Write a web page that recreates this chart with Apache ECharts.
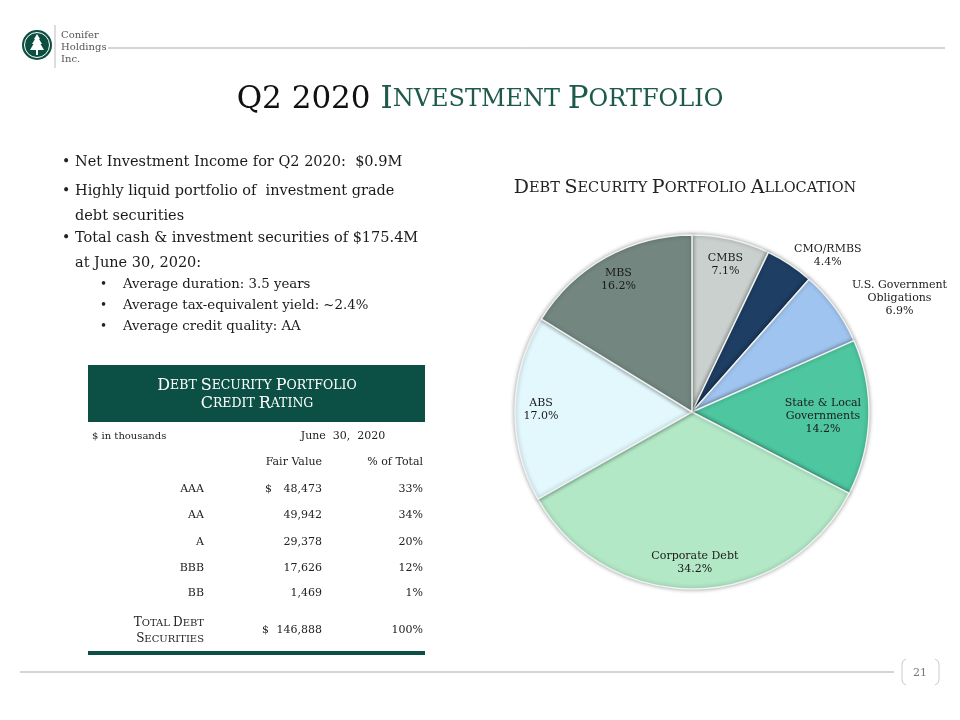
<!DOCTYPE html>
<html>
<head>
<meta charset="utf-8">
<script src="https://cdn.jsdelivr.net/npm/echarts@6/dist/echarts.min.js"></script>
<style>html,body{margin:0;padding:0;background:#fff;}#chart{width:960px;height:720px;}</style>
</head>
<body>
<div id="chart"></div>
<script>
// ---- data ----
const sliceNames = ['CMBS', 'CMO/RMBS', 'U.S. Government\nObligations', 'State & Local\nGovernments', 'Corporate Debt', 'ABS', 'MBS'];
const sliceValues = [7.1, 4.4, 6.9, 14.2, 34.2, 17.0, 16.2];
const ratings = ['AAA', 'AA', 'A', 'BBB', 'BB'];
const fairValues = [48473, 49942, 29378, 17626, 1469];
const pctOfTotal = [33, 34, 20, 12, 1];
const totalFairValue = 146888;
const totalPct = 100;
const bullets = ['Net Investment Income for Q2 2020:  $0.9M', 'Highly liquid portfolio of  investment grade\ndebt securities', 'Total cash & investment securities of $175.4M\nat June 30, 2020:'];
const subBullets = ['Average duration: 3.5 years', 'Average tax-equivalent yield: ~2.4%', 'Average credit quality: AA'];

// ---- styles ----
const sliceColors = ['#c9d0cd', '#1e3e63', '#9fc4ef', '#4ec6a0', '#b2e8c6', '#e2f8fd', '#738680'];
const labelRing = [0, 2, 3, 1, 0, 0, 0];
const rings = [
  {radius: [116, 180], startAngle: 90},
  {radius: [80, 176], startAngle: 90},
  {radius: [176, 232], startAngle: 82.5},
  {radius: [176, 291], startAngle: 82.5}
];
const SERIF = '"DejaVu Serif", serif';
const GREEN = '#0c5045';
const TITLE_GREEN = '#1e5a4c';
const center = [692, 412];

const chart = echarts.init(document.getElementById('chart'));

const series = [{
  type: 'pie',
  center: center,
  radius: [0, 177],
  startAngle: 90,
  clockwise: true,
  silent: true,
  label: {show: false},
  labelLine: {show: false},
  itemStyle: {borderColor: '#eef3f2', borderWidth: 1.5, shadowBlur: 4, shadowColor: 'rgba(0,0,0,0.35)'},
  data: sliceValues.map((v, i) => ({name: sliceNames[i], value: v, itemStyle: {color: sliceColors[i]}}))
}];
rings.forEach((r, k) => {
  series.push({
    type: 'pie',
    center: center,
    radius: r.radius,
    startAngle: r.startAngle,
    clockwise: true,
    silent: true,
    avoidLabelOverlap: false,
    itemStyle: {color: 'rgba(0,0,0,0)'},
    labelLine: {show: false},
    emphasis: {disabled: true},
    label: {
      position: 'inside',
      fontFamily: SERIF, fontSize: 11, lineHeight: 13, color: '#1a1a1a',
      formatter: p => p.name + '\n' + p.value.toFixed(1) + '%'
    },
    data: sliceValues.map((v, i) => ({name: sliceNames[i], value: v, label: {show: labelRing[i] === k}}))
  });
});

const g = [];
// logo
g.push({type: 'circle', shape: {cx: 37, cy: 45, r: 15}, style: {fill: '#0c4f41'}});
g.push({type: 'circle', shape: {cx: 37, cy: 45, r: 12.5}, style: {fill: 'none', stroke: '#fff', lineWidth: 1}});
g.push({type: 'polygon', shape: {points: [[37,34],[40,39],[39,39],[42,44],[40.5,44],[44,50],[38,50],[38,55],[36,55],[36,50],[30,50],[33.5,44],[32,44],[35,39],[34,39]]}, style: {fill: '#fff'}});
g.push({type: 'line', shape: {x1: 55, y1: 25, x2: 55, y2: 68}, style: {stroke: '#bbb', lineWidth: 1}});
['Conifer', 'Holdings', 'Inc.'].forEach((t, i) => g.push({type: 'text', x: 61, y: 35 + i * 12, style: {text: t, font: '10px ' + SERIF, fill: '#555', textVerticalAlign: 'middle'}}));
g.push({type: 'line', shape: {x1: 108, y1: 48, x2: 945, y2: 48}, style: {stroke: '#aaa', lineWidth: 1}});
// footer
g.push({type: 'line', shape: {x1: 20, y1: 672, x2: 894, y2: 672}, style: {stroke: '#aaa', lineWidth: 1}});
g.push({type: 'polyline', shape: {points: [[906,659],[903,661],[902,664],[902,680],[903,683],[906,685]]}, style: {fill: 'none', stroke: '#ccc', lineWidth: 1}});
g.push({type: 'polyline', shape: {points: [[935,659],[938,661],[939,664],[939,680],[938,683],[935,685]]}, style: {fill: 'none', stroke: '#ccc', lineWidth: 1}});
g.push({type: 'text', x: 920, y: 673, style: {text: '21', font: '11px ' + SERIF, fill: '#777', textAlign: 'center', textVerticalAlign: 'middle'}});
// title
g.push({type: 'text', x: 480, y: 100, style: {
  text: '{a|Q2 2020 }{b|I}{c|NVESTMENT }{b|P}{c|ORTFOLIO}',
  textAlign: 'center', textVerticalAlign: 'middle',
  rich: {
    a: {fontFamily: SERIF, fontSize: 31, fill: '#111'},
    b: {fontFamily: SERIF, fontSize: 31, fill: TITLE_GREEN},
    c: {fontFamily: SERIF, fontSize: 24, fill: TITLE_GREEN}
  }
}});
// chart title
g.push({type: 'text', x: 685, y: 188, style: {
  text: '{b|D}{s|EBT }{b|S}{s|ECURITY }{b|P}{s|ORTFOLIO }{b|A}{s|LLOCATION}',
  textAlign: 'center', textVerticalAlign: 'middle',
  rich: {b: {fontFamily: SERIF, fontSize: 19, fill: '#222'}, s: {fontFamily: SERIF, fontSize: 14.5, fill: '#222'}}
}});
// bullets
const bulletY = [161, 190, 237];
bullets.forEach((t, i) => {
  g.push({type: 'text', x: 62, y: bulletY[i] + 1, style: {text: '•', font: '14px ' + SERIF, fill: '#222', textVerticalAlign: 'middle'}});
  g.push({type: 'text', x: 75, y: bulletY[i] - 11, style: {text: t, font: '14.5px ' + SERIF, fill: '#1a1a1a', lineHeight: 24.5, textVerticalAlign: 'top'}});
});
subBullets.forEach((t, i) => {
  g.push({type: 'text', x: 100, y: 285 + i * 21, style: {text: '•', font: '12px ' + SERIF, fill: '#222', textVerticalAlign: 'middle'}});
  g.push({type: 'text', x: 123, y: 285 + i * 21, style: {text: t, font: '13.3px ' + SERIF, fill: '#1a1a1a', textVerticalAlign: 'middle'}});
});
// table
g.push({type: 'rect', shape: {x: 88, y: 365, width: 337, height: 57}, style: {fill: GREEN}});
const hdrRich = {b: {fontFamily: SERIF, fontSize: 16, fill: '#fff'}, s: {fontFamily: SERIF, fontSize: 12.5, fill: '#fff'}};
g.push({type: 'text', x: 257, y: 386, style: {text: '{b|D}{s|EBT }{b|S}{s|ECURITY }{b|P}{s|ORTFOLIO}', textAlign: 'center', textVerticalAlign: 'middle', rich: hdrRich}});
g.push({type: 'text', x: 257, y: 404, style: {text: '{b|C}{s|REDIT }{b|R}{s|ATING}', textAlign: 'center', textVerticalAlign: 'middle', rich: hdrRich}});
g.push({type: 'text', x: 92, y: 436, style: {text: '$ in thousands', font: '10px ' + SERIF, fill: '#222', textVerticalAlign: 'middle'}});
g.push({type: 'text', x: 343, y: 436, style: {text: 'June  30,  2020', font: '11px ' + SERIF, fill: '#222', textAlign: 'center', textVerticalAlign: 'middle'}});
g.push({type: 'text', x: 322, y: 462, style: {text: 'Fair Value', font: '11px ' + SERIF, fill: '#222', textAlign: 'right', textVerticalAlign: 'middle'}});
g.push({type: 'text', x: 423, y: 462, style: {text: '% of Total', font: '11px ' + SERIF, fill: '#222', textAlign: 'right', textVerticalAlign: 'middle'}});
const rowY = [489, 515, 542, 568, 593];
ratings.forEach((r, i) => {
  const y = rowY[i];
  g.push({type: 'text', x: 204, y: y, style: {text: r, font: '11px ' + SERIF, fill: '#222', textAlign: 'right', textVerticalAlign: 'middle'}});
  if (i === 0) g.push({type: 'text', x: 265, y: y, style: {text: '$', font: '11px ' + SERIF, fill: '#222', textVerticalAlign: 'middle'}});
  g.push({type: 'text', x: 322, y: y, style: {text: fairValues[i].toLocaleString('en-US'), font: '11px ' + SERIF, fill: '#222', textAlign: 'right', textVerticalAlign: 'middle'}});
  g.push({type: 'text', x: 423, y: y, style: {text: pctOfTotal[i] + '%', font: '11px ' + SERIF, fill: '#222', textAlign: 'right', textVerticalAlign: 'middle'}});
});
const totRich = {b: {fontFamily: SERIF, fontSize: 12, fill: '#222'}, s: {fontFamily: SERIF, fontSize: 10, fill: '#222'}};
g.push({type: 'text', x: 204, y: 623, style: {text: '{b|T}{s|OTAL }{b|D}{s|EBT}', textAlign: 'right', textVerticalAlign: 'middle', rich: totRich}});
g.push({type: 'text', x: 204, y: 639, style: {text: '{b|S}{s|ECURITIES}', textAlign: 'right', textVerticalAlign: 'middle', rich: totRich}});
g.push({type: 'text', x: 262, y: 630, style: {text: '$', font: '11px ' + SERIF, fill: '#222', textVerticalAlign: 'middle'}});
g.push({type: 'text', x: 322, y: 630, style: {text: totalFairValue.toLocaleString('en-US'), font: '11px ' + SERIF, fill: '#222', textAlign: 'right', textVerticalAlign: 'middle'}});
g.push({type: 'text', x: 423, y: 630, style: {text: totalPct + '%', font: '11px ' + SERIF, fill: '#222', textAlign: 'right', textVerticalAlign: 'middle'}});
g.push({type: 'rect', shape: {x: 88, y: 651, width: 337, height: 4}, style: {fill: GREEN}});

chart.setOption({
  animation: false,
  backgroundColor: '#fff',
  series: series,
  graphic: {elements: g}
});
</script>
</body>
</html>
